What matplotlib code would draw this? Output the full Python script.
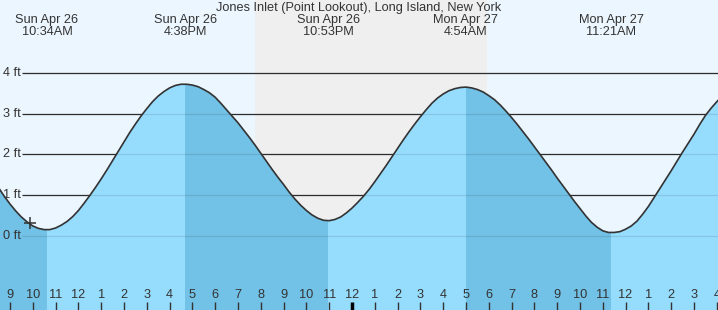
import matplotlib.pyplot as plt
import numpy as np

plt.rcParams['font.family'] = ['Liberation Sans', 'DejaVu Sans']

title = "Jones Inlet (Point Lookout), Long Island, New York"

# tide height (ft) every quarter hour, hours counted from midnight Sun Apr 26
hours = np.arange(8.5, 40.51, 0.25)
heights = [1.18, 0.97, 0.78, 0.61, 0.46, 0.34, 0.24, 0.18, 0.15, 0.15,
           0.19, 0.26, 0.35, 0.47, 0.62, 0.80, 0.99, 1.19, 1.40, 1.62,
           1.85, 2.08, 2.31, 2.54, 2.75, 2.95, 3.13, 3.30, 3.44, 3.55,
           3.64, 3.70, 3.73, 3.73, 3.71, 3.67, 3.60, 3.52, 3.41, 3.26,
           3.10, 2.94, 2.78, 2.60, 2.42, 2.23, 2.03, 1.83, 1.63, 1.44,
           1.26, 1.07, 0.90, 0.75, 0.62, 0.51, 0.43, 0.38, 0.37, 0.40,
           0.46, 0.56, 0.68, 0.82, 0.97, 1.14, 1.33, 1.53, 1.73, 1.94,
           2.15, 2.36, 2.56, 2.75, 2.93, 3.10, 3.26, 3.39, 3.49, 3.57,
           3.62, 3.65, 3.66, 3.64, 3.60, 3.54, 3.45, 3.35, 3.22, 3.07,
           2.91, 2.74, 2.56, 2.38, 2.19, 2.00, 1.81, 1.62, 1.42, 1.23,
           1.04, 0.85, 0.67, 0.49, 0.33, 0.21, 0.12, 0.08, 0.08, 0.10,
           0.16, 0.24, 0.36, 0.53, 0.72, 0.94, 1.16, 1.38, 1.60, 1.83,
           2.06, 2.28, 2.50, 2.74, 2.96, 3.14, 3.30, 3.44, 3.55]

# high / low tides
ext_hours = [10.62, 16.68, 22.95, 28.98, 35.38]
ext_days = ["Sun Apr 26", "Sun Apr 26", "Sun Apr 26", "Mon Apr 27", "Mon Apr 27"]
ext_times = ["10:34AM", "4:38PM", "10:53PM", "4:54AM", "11:21AM"]

# falling tide spans (darker water)
falling = [(8.0, 10.62), (16.68, 22.95), (28.98, 35.38)]
night = (19.75, 29.92)
now_hour, now_height = 9.86, 0.31

levels = [0, 1, 2, 3, 4]
level_labels = ["0 ft", "1 ft", "2 ft", "3 ft", "4 ft"]
tick_hours = list(range(9, 41))

day_bg = '#ecf6fe'
night_bg = '#efefef'
water = '#96dcfd'
water_dark = '#72c1e6'
ink = '#333333'
fs = 9.2

fig = plt.figure(figsize=(7.18, 3.10), dpi=100)
ax = fig.add_axes([0, 0, 1, 1])
x0, x1 = 8.561, 40.053
ax.set_xlim(x0, x1)
ax.set_ylim(-1.83, 5.805)
ax.axis('off')
ax.add_patch(plt.Rectangle((0, 0), 1, 1, transform=ax.transAxes, color=day_bg, zorder=0))

ax.axvspan(night[0], night[1], color=night_bg, zorder=0.5, lw=0)

gx = x0 + 22 / 22.8
ax.hlines(levels, gx, x1, color=ink, lw=0.9, zorder=1)

poly = ax.fill_between(hours, heights, -5, color=water, lw=0, zorder=2)
clip = (poly.get_paths()[0], poly.get_transform())
for a, b in falling:
    sp = ax.axvspan(a, b, color=water_dark, lw=0, zorder=2.5)
    sp.set_clip_path(*clip)

ax.hlines(levels, gx, x1, color='black', alpha=0.1, lw=0.9, zorder=3)
ax.plot(hours, heights, color=ink, lw=1.2, zorder=4)
ax.plot([now_hour], [now_height], marker='+', ms=9, mew=1.1, color=ink, zorder=5)

for lv, lab in zip(levels, level_labels):
    ax.text(x0 + 3 / 22.8, lv, lab, ha='left', va='center', fontsize=fs, color=ink, zorder=6)

tr = ax.get_xaxis_transform()
for h in tick_hours:
    lab = str((h - 1) % 12 + 1)
    ax.text(h, 1 - 295 / 310, lab, transform=tr, ha='center', va='center',
            fontsize=fs, color=ink, zorder=6)
    w = 2.5 if h % 24 == 0 else 1.0
    ax.plot([h, h], [0, 8 / 310], transform=tr, color='black' if w > 1 else ink,
            lw=w, zorder=6, solid_capstyle='butt')

for h, d, t in zip(ext_hours, ext_days, ext_times):
    ax.text(h, 1 - 20 / 310, d, transform=tr, ha='center', va='center', fontsize=fs, color=ink)
    ax.text(h, 1 - 32 / 310, t, transform=tr, ha='center', va='center', fontsize=fs, color=ink)

ax.text(0.5, 1 - 7.5 / 310, title, transform=ax.transAxes, ha='center', va='center',
        fontsize=fs, color=ink)

fig.savefig('out.png', dpi=100)
